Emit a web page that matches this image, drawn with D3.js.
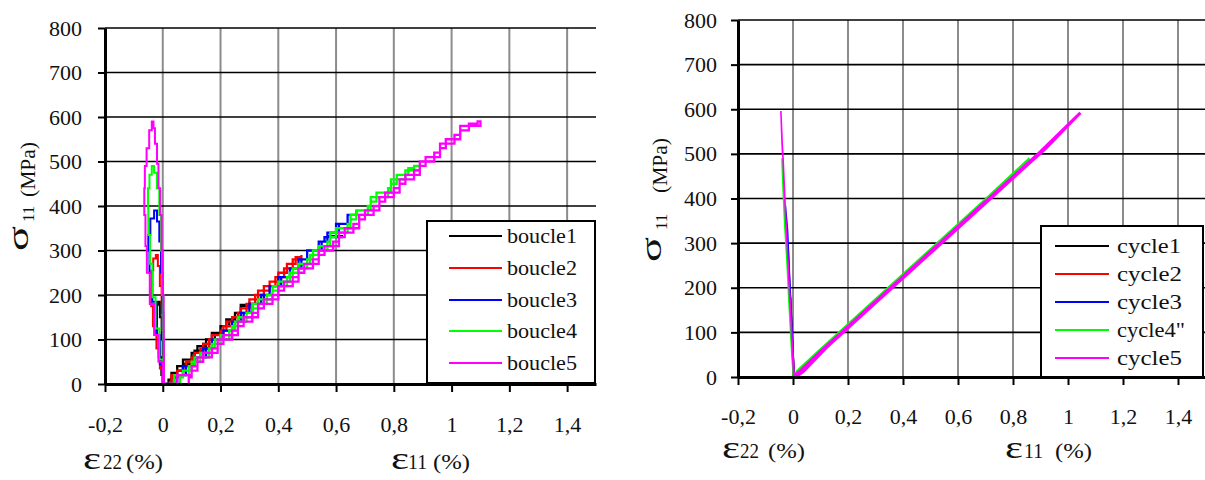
<!DOCTYPE html>
<html><head><meta charset="utf-8">
<script src="https://cdn.jsdelivr.net/npm/d3@7"></script>
<style>
body{margin:0;background:#fff}
svg{display:block}
text{font-family:"Liberation Serif","Times New Roman",serif;fill:#111}
</style>
</head><body>
<svg id="c" width="1205" height="480"></svg>
<script>
// ---------- tick values / labels ----------
const xTickValues = [-0.2, 0, 0.2, 0.4, 0.6, 0.8, 1, 1.2, 1.4];
const xTickLabels = ["-0,2", "0", "0,2", "0,4", "0,6", "0,8", "1", "1,2", "1,4"];
const yTickValues = [0, 100, 200, 300, 400, 500, 600, 700, 800];
const yTickLabels = ["0", "100", "200", "300", "400", "500", "600", "700", "800"];
const yLabelParts = ["σ", "11", "(MPa)"];
const xLabelE22 = ["ε", "22", "(%)"];
const xLabelE11 = ["ε", "11", "(%)"];
const leftNames = ["boucle1", "boucle2", "boucle3", "boucle4", "boucle5"];
const rightNames = ["cycle1", "cycle2", "cycle3", "cycle4\"", "cycle5"];
const seriesColors = ["#000000", "#ff0000", "#0000ff", "#00ff00", "#ff00ff"];

// ---------- left chart data: [strain %, stress MPa] ----------
const b1_e11 = [[0.0,0],[0.03,15],[0.05,30],[0.07,45],[0.10,60],[0.11,75],[0.14,90],[0.15,100],[0.18,115],[0.20,130],[0.23,145],[0.25,160],[0.27,175],[0.30,185],
  [0.30,178],[0.27,160],[0.25,145],[0.22,130],[0.20,115],[0.17,100],[0.15,85],[0.12,70],[0.10,55],[0.07,40],[0.05,25],[0.03,10],[0.02,0]];
const b2_e11 = [[0.005,0],[0.03,20],[0.07,40],[0.10,60],[0.13,80],[0.16,100],[0.20,120],[0.22,140],[0.26,160],[0.29,180],[0.32,200],[0.35,220],[0.39,240],[0.42,260],[0.45,280],[0.48,290],
  [0.48,285],[0.46,270],[0.43,250],[0.40,230],[0.37,210],[0.33,190],[0.30,170],[0.27,150],[0.24,130],[0.21,110],[0.17,90],[0.14,70],[0.11,50],[0.08,30],[0.05,15],[0.03,0]];
const b3_e11 = [[0.01,0],[0.04,20],[0.08,40],[0.11,60],[0.15,80],[0.17,100],[0.21,120],[0.24,140],[0.28,160],[0.30,180],[0.35,200],[0.37,220],[0.41,240],[0.44,260],[0.48,280],[0.50,300],[0.55,320],[0.56,330],[0.62,332],[0.57,340],[0.61,360],[0.64,380],[0.67,390],
  [0.67,380],[0.64,360],[0.60,340],[0.57,320],[0.54,300],[0.50,280],[0.47,260],[0.44,240],[0.40,220],[0.37,200],[0.34,180],[0.31,160],[0.27,140],[0.24,120],[0.21,100],[0.17,80],[0.14,60],[0.11,40],[0.07,20],[0.05,0]];
const b4_e11 = [[0.015,0],[0.04,20],[0.09,40],[0.11,60],[0.16,80],[0.18,100],[0.23,120],[0.25,140],[0.29,160],[0.31,180],[0.36,200],[0.38,220],[0.43,240],[0.45,260],[0.50,280],[0.52,300],[0.57,320],[0.58,340],[0.64,360],[0.65,380],[0.71,400],[0.72,420],[0.78,440],[0.79,460],[0.84,480],[0.89,490],
  [0.87,485],[0.85,470],[0.81,450],[0.79,430],[0.74,410],[0.72,390],[0.67,370],[0.65,350],[0.60,330],[0.58,310],[0.54,290],[0.51,270],[0.47,250],[0.44,230],[0.40,210],[0.38,190],[0.33,170],[0.31,150],[0.26,130],[0.24,110],[0.20,90],[0.17,70],[0.13,50],[0.10,30],[0.07,15],[0.06,0]];
const b5_e11 = [[0.02,0],[0.05,20],[0.10,40],[0.12,60],[0.17,80],[0.19,100],[0.24,120],[0.26,140],[0.31,160],[0.33,180],[0.38,200],[0.40,220],[0.45,240],[0.47,260],[0.52,280],[0.54,300],[0.59,320],[0.61,340],[0.66,360],[0.68,380],[0.73,400],[0.75,420],[0.80,440],[0.82,460],[0.87,480],[0.89,500],[0.94,520],[0.96,540],[1.01,560],[1.03,580],[1.10,590],
  [1.09,585],[1.06,570],[1.03,550],[0.98,530],[0.96,510],[0.91,490],[0.89,470],[0.84,450],[0.82,430],[0.77,410],[0.75,390],[0.70,370],[0.68,350],[0.63,330],[0.61,310],[0.56,290],[0.54,270],[0.49,250],[0.47,230],[0.42,210],[0.40,190],[0.35,170],[0.33,150],[0.28,130],[0.26,110],[0.21,90],[0.19,70],[0.14,50],[0.12,30],[0.10,15],[0.09,0]];

const b1_e22 = [[0.002,0],[0.003,40],[0.0,100],[-0.004,150],[-0.01,185],[-0.016,178],[-0.02,150],[-0.02,110],[-0.014,60],[-0.005,20],[0.0,0]];
const b2_e22 = [[0.002,0],[0.003,60],[0.002,120],[-0.002,180],[-0.004,220],[-0.01,265],[-0.017,290],[-0.024,282],[-0.033,255],[-0.039,215],[-0.04,175],[-0.034,130],[-0.022,80],[-0.01,35],[0.0,0]];
const b3_e22 = [[0.002,0],[0.003,80],[0.002,160],[-0.001,250],[-0.006,320],[-0.012,365],[-0.02,390],[-0.03,372],[-0.043,335],[-0.05,300],[-0.046,250],[-0.036,185],[-0.022,110],[-0.01,45],[0.0,0]];
const b4_e22 = [[0.002,0],[0.003,100],[0.002,200],[-0.002,300],[-0.006,380],[-0.012,440],[-0.02,475],[-0.03,490],[-0.038,470],[-0.046,440],[-0.051,395],[-0.05,335],[-0.044,270],[-0.036,195],[-0.025,125],[-0.012,55],[0.0,0]];
const b5_e22 = [[0.003,0],[0.004,100],[0.003,200],[0.0,300],[-0.004,380],[-0.009,440],[-0.015,495],[-0.02,540],[-0.027,575],[-0.032,590],[-0.038,570],[-0.047,530],[-0.056,490],[-0.062,440],[-0.064,380],[-0.06,310],[-0.055,250],[-0.045,180],[-0.03,110],[-0.015,50],[0.0,0]];

// ---------- right chart data ----------
const c1_e11 = [[0.0,0],[0.02,10],[0.1,58],[0.2,114],[0.3,170],[0.32,180],[0.2,112],[0.1,56],[0.02,8],[0.01,0]];
const c2_e11 = [[0.0,0],[0.02,10],[0.1,58],[0.3,170],[0.5,282],[0.515,290],[0.3,168],[0.1,56],[0.02,8],[0.01,0]];
const c3_e11 = [[0.0,0],[0.02,10],[0.1,58],[0.3,170],[0.5,282],[0.695,390],[0.5,280],[0.3,168],[0.1,56],[0.02,8],[0.01,0]];
const c4_e11 = [[0.0,0],[0.015,13],[0.1,62],[0.3,174],[0.5,286],[0.7,398],[0.86,490],[0.7,395],[0.5,283],[0.3,171],[0.1,59],[0.02,10],[0.0,0]];
const c5_e11 = [[0.0,0],[0.02,10],[0.1,57],[0.3,169],[0.5,281],[0.7,393],[0.9,505],[1.045,592],[0.92,513],[0.72,401],[0.52,289],[0.32,177],[0.12,65],[0.04,14],[0.01,0]];

const c1_e22 = [[0.004,0],[0.0,50],[-0.006,120],[-0.008,150],[-0.01,180],[-0.008,150],[-0.002,60],[0.003,0]];
const c2_e22 = [[0.004,0],[-0.002,80],[-0.01,180],[-0.018,290],[-0.012,200],[-0.004,90],[0.003,0]];
const c3_e22 = [[0.004,0],[-0.003,100],[-0.012,220],[-0.028,385],[-0.02,330],[-0.01,190],[0.002,20],[0.004,0]];
const c4_e22 = [[0.003,0],[-0.004,60],[-0.01,120],[-0.016,190],[-0.023,270],[-0.03,340],[-0.036,420],[-0.04,490],[-0.036,440],[-0.03,360],[-0.022,260],[-0.014,160],[-0.006,70],[0.001,0]];
const c5_e22 = [[0.004,0],[0.002,30],[-0.003,80],[-0.008,140],[-0.013,200],[-0.019,270],[-0.025,340],[-0.031,420],[-0.036,490],[-0.038,500],[-0.04,525],[-0.042,560],[-0.044,596],[-0.043,580],[-0.039,520],[-0.037,500],[-0.033,440],[-0.027,360],[-0.02,280],[-0.013,190],[-0.007,120],[-0.002,50],[0.002,10],[0.004,0]];

// ---------- drawing ----------
const svg = d3.select("#c");

function panel(o) {
  const g = svg.append("g");
  const x = o.x, y = o.y;
  // vertical grid (gray)
  g.selectAll("line.vg").data(xTickValues.slice(1)).join("line")
    .attr("x1", d => x(d)).attr("x2", d => x(d))
    .attr("y1", y(0)).attr("y2", y(800))
    .attr("stroke", "#8c8c8c").attr("stroke-width", 2);
  // horizontal grid (black)
  g.selectAll("line.hg").data(yTickValues.slice(1)).join("line")
    .attr("x1", x(-0.2)).attr("x2", x(1.5))
    .attr("y1", d => y(d)).attr("y2", d => y(d))
    .attr("stroke", "#000").attr("stroke-width", 1.7);

  // series
  const line = d3.line().x(d => x(d[0])).y(d => y(d[1])).curve(o.curve);
  o.series.forEach((s, i) => {
    s.forEach(p => {
      g.append("path").attr("d", line(p.data)).attr("fill", "none")
        .attr("stroke", seriesColors[i]).attr("stroke-width", p.w)
        .attr("stroke-linejoin", "miter");
    });
  });

  // axes
  const ya = g.append("g").attr("transform", `translate(${x(-0.2)},0)`)
    .call(d3.axisLeft(y).tickValues(yTickValues).tickFormat((d, i) => yTickLabels[i])
      .tickSizeInner(7).tickSizeOuter(0).tickPadding(o.yPad));
  const xa = g.append("g").attr("transform", `translate(0,${y(0)})`)
    .call(d3.axisBottom(x).tickValues(xTickValues).tickFormat((d, i) => xTickLabels[i])
      .tickSizeInner(8).tickSizeOuter(0).tickPadding(10));
  [ya, xa].forEach(a => {
    a.select(".domain").attr("stroke", "#000").attr("stroke-width", 3);
    a.selectAll(".tick line").attr("stroke", "#000").attr("stroke-width", 2);
    a.selectAll("text").attr("font-size", 22).attr("font-family", "Liberation Serif").attr("fill", "#111");
  });
  xa.selectAll("text").attr("y", o.xTickBase).attr("dy", null);

  // y label (rotated)
  const yl = o.yLab;
  g.append("text").attr("transform", `translate(${yl.s[0]},${yl.s[1]}) rotate(-90)`)
    .attr("font-size", 29).attr("textLength", 25).attr("lengthAdjust", "spacingAndGlyphs").text(yLabelParts[0]);
  g.append("text").attr("transform", `translate(${yl.n[0]},${yl.n[1]}) rotate(-90)`)
    .attr("font-size", 17).text(yLabelParts[1]);
  g.append("text").attr("transform", `translate(${yl.m[0]},${yl.m[1]}) rotate(-90)`)
    .attr("font-size", 21).attr("textLength", 55).attr("lengthAdjust", "spacingAndGlyphs").text(yLabelParts[2]);

  // x labels
  o.xLabs.forEach(l => {
    g.append("text").attr("x", l.e).attr("y", l.base).attr("font-size", 31)
      .attr("textLength", 18).attr("lengthAdjust", "spacingAndGlyphs").text(l.parts[0]);
    g.append("text").attr("x", l.n).attr("y", l.base).attr("font-size", 21)
      .attr("textLength", 19).attr("lengthAdjust", "spacingAndGlyphs").text(l.parts[1]);
    g.append("text").attr("x", l.p).attr("y", l.base).attr("font-size", 21)
      .attr("textLength", 37).attr("lengthAdjust", "spacingAndGlyphs").text(l.parts[2]);
  });

  // legend
  const L = o.legend;
  g.append("rect").attr("x", L.x).attr("y", L.y).attr("width", L.w).attr("height", L.h)
    .attr("fill", "#fff").attr("stroke", "#000").attr("stroke-width", 2);
  o.names.forEach((n, i) => {
    const ry = L.rows[i];
    g.append("line").attr("x1", L.l1).attr("x2", L.l2).attr("y1", ry).attr("y2", ry)
      .attr("stroke", seriesColors[i]).attr("stroke-width", 2);
    g.append("text").attr("x", L.tx).attr("y", ry + 7).attr("font-size", 21)
      .attr("textLength", L.tl[i]).attr("lengthAdjust", "spacingAndGlyphs").text(n);
  });
}

const xL = d3.scaleLinear().domain([-0.2, 1.5]).range([105, 596]);
const yL = d3.scaleLinear().domain([0, 800]).range([384, 28]);
const xR = d3.scaleLinear().domain([-0.2, 1.5]).range([738, 1205.5]);
const yR = d3.scaleLinear().domain([0, 800]).range([377, 20]);

panel({
  x: xL, y: yL, yPad: 16, xTickBase: 48, curve: d3.curveStepAfter,
  series: [
    [{data: b1_e11, w: 2.3}, {data: b1_e22, w: 2}],
    [{data: b2_e11, w: 2.3}, {data: b2_e22, w: 2}],
    [{data: b3_e11, w: 2.3}, {data: b3_e22, w: 2}],
    [{data: b4_e11, w: 2.3}, {data: b4_e22, w: 2}],
    [{data: b5_e11, w: 2.3}, {data: b5_e22, w: 2}]
  ],
  yLab: {s: [28, 251], n: [34, 222], m: [35, 197]},
  xLabs: [
    {parts: xLabelE22, e: 83, n: 103, p: 126, base: 469},
    {parts: xLabelE11, e: 391, n: 408, p: 433, base: 469}
  ],
  names: leftNames,
  legend: {x: 427, y: 221, w: 168, h: 162, l1: 449, l2: 502, tx: 507,
           rows: [236, 268, 300, 331, 363], tl: [70, 70, 70, 70, 70]}
});

panel({
  x: xR, y: yR, yPad: 14, xTickBase: 47, curve: d3.curveLinear,
  series: [
    [{data: c1_e11, w: 2}, {data: c1_e22, w: 2}],
    [{data: c2_e11, w: 2}, {data: c2_e22, w: 1.6}],
    [{data: c3_e11, w: 2}, {data: c3_e22, w: 1.6}],
    [{data: c4_e11, w: 2.5}, {data: c4_e22, w: 1.6}],
    [{data: c5_e11, w: 3}, {data: c5_e22, w: 1.6}]
  ],
  yLab: {s: [661, 262], n: [667, 230], m: [667, 193]},
  xLabs: [
    {parts: xLabelE22, e: 722, n: 740, p: 768, base: 458},
    {parts: xLabelE11, e: 1005, n: 1024, p: 1055, base: 458}
  ],
  names: rightNames,
  legend: {x: 1041, y: 226, w: 162, h: 151, l1: 1055, l2: 1109, tx: 1117,
           rows: [246, 274, 302, 330, 358], tl: [64, 65, 65, 68, 65]}
});
</script>
</body></html>
